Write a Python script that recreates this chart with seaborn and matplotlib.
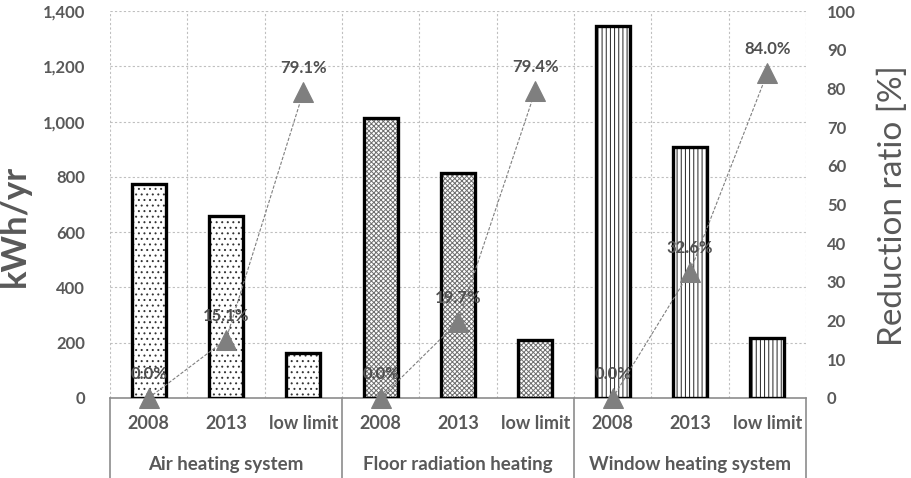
import matplotlib
matplotlib.use("Agg")
import matplotlib.pyplot as plt
import matplotlib.transforms as mtransforms
import seaborn as sns
import pandas as pd
import numpy as np

groups = ["Air heating system", "Floor radiation heating", "Window heating system"]
cases = ["2008", "2013", "low limit"]
air_energy = [774, 658, 163]
floor_energy = [1013, 814, 210]
window_energy = [1346, 908, 217]
air_ratio = [0.0, 15.1, 79.1]
floor_ratio = [0.0, 19.7, 79.4]
window_ratio = [0.0, 32.6, 84.0]
left_ticks = [0, 200, 400, 600, 800, 1000, 1200, 1400]
right_ticks = [0, 10, 20, 30, 40, 50, 60, 70, 80, 90, 100]

energies = [air_energy, floor_energy, window_energy]
ratios = [air_ratio, floor_ratio, window_ratio]
rows = []
for g, en, ra in zip(groups, energies, ratios):
    for c, e, r in zip(cases, en, ra):
        rows.append({"group": g, "case": c, "key": g + "|" + c, "energy": e, "ratio": r})
df = pd.DataFrame(rows)
df["pos"] = np.arange(len(df))

sns.set_style("white")
plt.rcParams["font.family"] = ["Lato", "DejaVu Sans"]
plt.rcParams["hatch.linewidth"] = 0.7

fig = plt.figure(figsize=(9.11, 4.78), dpi=100)
ax = fig.add_axes([110 / 911, 1 - 398 / 478, 696 / 911, 387 / 478])

gray_txt = "#595959"
hatches = {groups[0]: "...", groups[1]: "xxxxxxx", groups[2]: "||||"}
hcolors = {groups[0]: "#333333", groups[1]: "#6e6e6e", groups[2]: "#222222"}

order = list(df["key"])
sns.barplot(data=df, x="key", y="energy", order=order, color="white", width=0.44,
            ax=ax, saturation=1, linewidth=0, zorder=2)
for patch, (_, row) in zip(ax.patches, df.iterrows()):
    patch.set_facecolor("white")
    patch.set_hatch(hatches[row["group"]])
    patch.set_edgecolor(hcolors[row["group"]])
    patch.set_linewidth(0)
n_first = len(ax.patches)
sns.barplot(data=df, x="key", y="energy", order=order, fill=False, width=0.44,
            ax=ax, linewidth=2.4, edgecolor="black", zorder=3)
for patch in ax.patches[n_first:]:
    patch.set_edgecolor("black")
    patch.set_facecolor("none")
    patch.set_linewidth(2.4)

ax.set_ylim(0, 1400)
ax.set_xlim(-0.5, len(df) - 0.5)
ax.set_yticks(left_ticks)
ax.set_yticklabels([f"{v:,}" for v in left_ticks])
ax.set_xticks(df["pos"])
ax.set_xticklabels(list(df["case"]))
ax.tick_params(axis="y", length=0, pad=18, labelsize=12, labelcolor=gray_txt)
ax.tick_params(axis="x", length=0, pad=12, labelsize=13, labelcolor=gray_txt)
for t in ax.get_yticklabels() + ax.get_xticklabels():
    t.set_fontweight("bold")
ax.set_xlabel("")
ax.set_ylabel("")

# grid
for y in left_ticks[1:]:
    ax.axhline(y, color="#bfbfbf", lw=0.8, ls=(0, (2, 2)), zorder=0)
for x in np.arange(-0.5, len(df), 1.0):
    ax.axvline(x, color="#bfbfbf", lw=0.8, ls=(0, (2, 2)), zorder=0)
for s in ["top", "right", "left"]:
    ax.spines[s].set_visible(False)
ax.spines["bottom"].set_color("#8c8c8c")
ax.spines["bottom"].set_linewidth(1.2)

# category box separators and group labels
trans = mtransforms.blended_transform_factory(ax.transData, ax.transAxes)
for x in [-0.5, 2.5, 5.5, 8.5]:
    ax.plot([x, x], [0, -0.21], transform=trans, color="#8c8c8c", lw=1.2, clip_on=False)
for i, g in enumerate(groups):
    ax.text(i * 3 + 1, -0.173, g, transform=trans, ha="center", va="center",
            fontsize=13.5, color=gray_txt, fontweight="bold")

# right axis
ax2 = ax.twinx()
for g, ra in zip(groups, ratios):
    sub = df[df["group"] == g]
    sns.lineplot(x=sub["pos"], y=sub["ratio"], ax=ax2, color="#7f7f7f", lw=0.8,
                 linestyle=(0, (3, 1.5)), marker="^", markersize=14,
                 markerfacecolor="#7f7f7f", markeredgecolor="#7f7f7f", zorder=5,
                 clip_on=False)
    for _, row in sub.iterrows():
        ax2.annotate(f"{row['ratio']:.1f}%", (row["pos"], row["ratio"]),
                     xytext=(0, 17), textcoords="offset points", ha="center", va="center",
                     fontsize=12, color="#505050", fontweight="bold", zorder=6)
ax2.set_ylim(0, 100)
ax2.set_yticks(right_ticks)
ax2.tick_params(axis="y", length=0, pad=15, labelsize=12, labelcolor=gray_txt)
for t in ax2.get_yticklabels():
    t.set_fontweight("bold")
ax2.set_ylabel("")
ax2.set_xlabel("")
for s in ax2.spines.values():
    s.set_visible(False)

fig.text(15 / 911, 1 - 226 / 478, "kWh/yr", rotation=90, ha="center", va="center",
         fontsize=25, color=gray_txt, fontweight="bold")
fig.text(893 / 911, 1 - 206 / 478, "Reduction ratio [%]", rotation=90, ha="center",
         va="center", fontsize=24, color=gray_txt)

fig.savefig("out.png", dpi=100)
